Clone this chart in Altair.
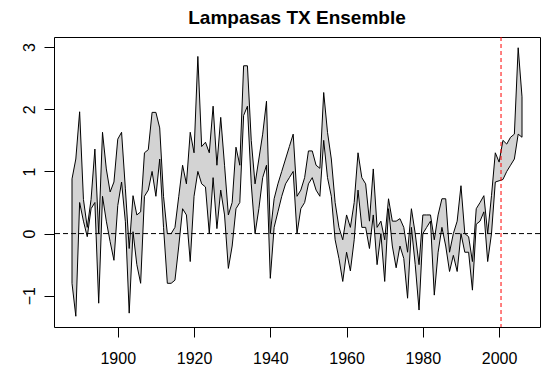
import altair as alt
import pandas as pd

years = list(range(1888, 2007))

upper = [
    0.88, 1.20, 1.96, 0.55, 0.10, 0.55, 1.36, 0.00, 1.63, 1.04,   # 1888-1897
    0.67, 0.83, 1.52, 1.63, 0.72, -0.24, 0.61, 0.30, 0.35, 1.30,  # 1898-1907
    1.35, 1.95, 1.95, 1.70, 0.60, 0.00, 0.00, 0.10, 0.60, 1.10,   # 1908-1917
    0.80, 1.63, 1.30, 2.85, 1.40, 1.47, 1.30, 2.05, 1.10, 1.87,   # 1918-1927
    1.10, 0.30, 0.50, 1.39, 1.10, 2.70, 2.70, 1.50, 0.80, 1.20,   # 1928-1937
    1.60, 2.13, 0.00, 0.56, 0.80, 1.00, 1.20, 1.40, 1.60, 0.60,   # 1938-1947
    0.70, 0.90, 1.33, 1.33, 1.10, 1.05, 2.27, 1.63, 1.20, 0.50,   # 1948-1957
    0.10, -0.10, 0.30, 0.10, 0.50, 1.30, 0.90, 0.80, 0.20, 1.04,  # 1958-1967
    0.10, 0.20, -0.10, 0.56, 0.20, 0.20, 0.24, 0.10, -0.30, 0.40, # 1968-1977
    0.00, -0.50, 0.30, 0.30, 0.30, -0.10, 0.30, 0.56, 0.56, -0.30, # 1978-1987
    0.00, 0.20, 0.77, 0.00, -0.05, -0.45, 0.40, 0.50, 0.61, 0.00, # 1988-1997
    0.61, 1.30, 1.15, 1.50, 1.44, 1.55, 1.60, 2.99, 2.20,         # 1998-2006
]

lower = [
    -0.80, -1.33, 0.50, 0.20, -0.05, 0.40, 0.50, -1.12, 0.60, 0.20,   # 1888-1897
    -0.13, -0.43, 0.45, 0.83, 0.19, -1.28, 0.03, -0.50, -0.80, 0.60,  # 1898-1907
    0.70, 1.00, 0.60, 1.20, 0.10, -0.80, -0.80, -0.75, -0.20, 0.40,   # 1908-1917
    0.30, -0.45, 0.60, 1.00, 0.80, 0.75, 0.00, 0.90, 0.08, 0.70,      # 1918-1927
    0.30, -0.56, -0.20, 0.40, 0.50, 1.90, 2.05, 0.80, 0.00, 0.40,     # 1928-1937
    0.90, 1.10, -0.72, 0.10, 0.35, 0.60, 0.80, 0.90, 1.00, 0.00,      # 1938-1947
    0.40, 0.50, 0.80, 0.90, 0.70, 0.60, 1.50, 0.90, 0.60, -0.10,      # 1948-1957
    -0.40, -0.77, -0.30, -0.60, -0.10, 0.70, 0.10, 0.10, -0.24, 0.30, # 1958-1967
    -0.50, 0.00, -0.77, 0.40, -0.20, -0.55, -0.20, -0.40, -1.04, 0.10, # 1968-1977
    -0.50, -1.23, 0.00, 0.10, 0.20, -0.99, -0.30, 0.10, -0.20, -0.61, # 1978-1987
    -0.35, -0.61, 0.00, -0.30, -0.30, -0.91, 0.15, 0.20, 0.35, -0.45, # 1988-1997
    0.00, 0.83, 0.85, 0.87, 1.00, 1.10, 1.20, 1.60, 1.55,             # 1998-2006
]

x_ticks = [1900, 1920, 1940, 1960, 1980, 2000]
y_ticks = [-1, 0, 1, 2, 3]
marker_year = 2000.5

df = pd.DataFrame({"year": years, "upper": upper, "lower": lower})
ends = df[df["year"].isin([years[0], years[-1]])]

FONT = "Liberation Sans"
xs = alt.Scale(domain=[1883.28, 2010.72], nice=False, zero=False)
ys = alt.Scale(domain=[-1.503, 3.163], nice=False, zero=False)

x_axis = alt.Axis(values=x_ticks, title=None, grid=False, domain=False,
                  tickSize=10, tickColor="black", labelColor="black",
                  labelFont=FONT, labelFontSize=16, labelPadding=13,
                  format="d", labelFlush=False)
y_axis = alt.Axis(values=y_ticks, title=None, grid=False, domain=False,
                  tickSize=10, tickColor="black", labelColor="black",
                  labelFont=FONT, labelFontSize=16, labelPadding=7,
                  labelAngle=270, labelAlign="center", labelBaseline="bottom",
                  format="d")

base = alt.Chart(df)

area = base.mark_area(color="#D3D3D3", opacity=1).encode(
    x=alt.X("year:Q", scale=xs, axis=x_axis),
    y=alt.Y("upper:Q", scale=ys, axis=y_axis),
    y2="lower:Q",
)

line_u = base.mark_line(color="black", strokeWidth=1).encode(
    x=alt.X("year:Q", scale=xs), y=alt.Y("upper:Q", scale=ys))
line_l = base.mark_line(color="black", strokeWidth=1).encode(
    x=alt.X("year:Q", scale=xs), y=alt.Y("lower:Q", scale=ys))
end_rules = alt.Chart(ends).mark_rule(color="black", strokeWidth=1).encode(
    x=alt.X("year:Q", scale=xs), y=alt.Y("upper:Q", scale=ys), y2="lower:Q")

zero = alt.Chart(pd.DataFrame({"v": [0]})).mark_rule(
    color="black", strokeDash=[5, 3], strokeWidth=1).encode(
    y=alt.Y("v:Q", scale=ys))
vline = alt.Chart(pd.DataFrame({"v": [marker_year]})).mark_rule(
    color="red", strokeDash=[4, 3], strokeWidth=1).encode(
    x=alt.X("v:Q", scale=xs))

chart = alt.layer(area, line_u, line_l, end_rules, zero, vline).properties(
    width=486, height=290,
    background="white",
    title=alt.Title("Lampasas TX Ensemble", font=FONT, fontSize=19,
                    fontWeight="bold", color="black", anchor="middle",
                    frame="group", offset=9),
    autosize=alt.AutoSizeParams(type="none"),
    padding={"left": 46, "top": 29, "right": 10, "bottom": 40},
).configure_view(stroke="black", strokeWidth=1, strokeOpacity=1)

chart.save("out.html", embed_options={"renderer": "svg", "actions": False})
